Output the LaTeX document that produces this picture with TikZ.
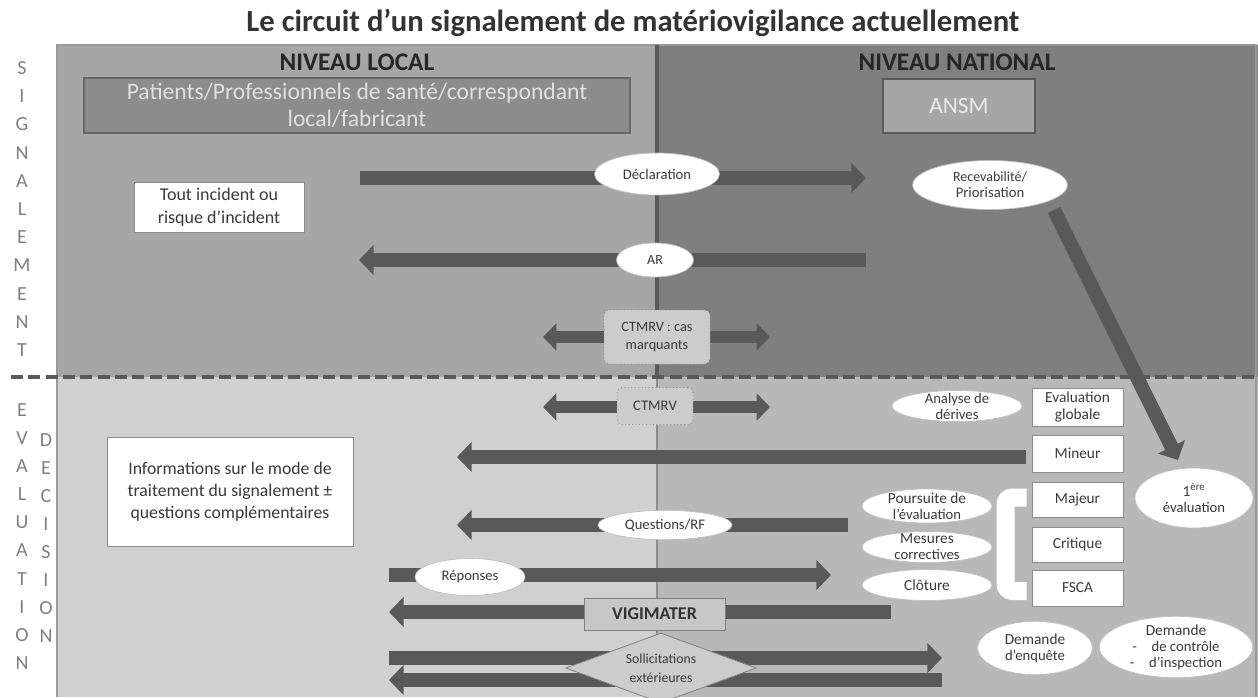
\documentclass[tikz,border=0pt]{standalone}
\usepackage{fontspec}
\setmainfont{Carlito}
\usetikzlibrary{arrows.meta,shapes.geometric}
\definecolor{arrowc}{HTML}{595959}
\definecolor{tlc}{HTML}{A6A6A6}
\definecolor{trc}{HTML}{7F7F7F}
\definecolor{blc}{HTML}{D0D0D0}
\definecolor{brc}{HTML}{B8B8B8}
\definecolor{txtc}{HTML}{3A3A3A}
\definecolor{lblc}{HTML}{808080}
\pgfdeclarelayer{bg}
\pgfdeclarelayer{arr}
\pgfsetlayers{bg,arr,main}
\tikzset{
  lbl/.style={text=lblc, font=\fontsize{15}{18}\selectfont, inner sep=0pt},
  niveau/.style={text=black!85, font=\fontsize{19}{22}\selectfont\bfseries, inner sep=0pt},
  whitebox/.style={rectangle, draw=black!45, line width=0.6pt, fill=white, text=txtc, align=center, inner sep=0pt},
  ovtext/.style={text=txtc, align=center, inner sep=0pt, font=\fontsize{11}{12}\selectfont},
  oval/.style={ellipse, draw=black!25, line width=0.5pt, fill=white, inner sep=0pt, label={[ovtext]center:#1}},
  ctm/.style={rectangle, rounded corners=4pt, draw=black!45, dotted, line width=0.6pt, fill=black!20, text=txtc, align=center, inner sep=0pt, font=\fontsize{10.7}{13}\selectfont},
  bigarrow/.style={arrowc, line width=10.5pt, -{Triangle[width=22pt,length=11pt]}},
  dblarrow/.style={arrowc, line width=9pt, {Triangle[width=20pt,length=10pt]}-{Triangle[width=20pt,length=10pt]}},
  rankbox/.style={whitebox, minimum width=68.25pt, font=\fontsize{11.5}{13}\selectfont}
}
\begin{document}
\begin{tikzpicture}[x=0.75pt,y=-0.75pt]
\useasboundingbox (0,0) rectangle (1258,697);

% backgrounds
\begin{pgfonlayer}{bg}
  \fill[white] (0,0) rectangle (1258,697);
  \fill[tlc] (57,45) rectangle (657,377);
  \fill[trc] (657,45) rectangle (1258,377);
  \fill[blc] (57,377) rectangle (657,697);
  \fill[brc] (657,377) rectangle (1258,697);
  \draw[black!40, line width=1pt] (57,697) -- (57,45) -- (1256,45) -- (1256,697);
  \draw[black!65, line width=2.5pt] (657,45) -- (657,377);
  \draw[black!45, line width=2.2pt] (657,377) -- (657,697);
  \draw[arrowc, line width=3pt, dash pattern=on 9pt off 4pt] (11,377) -- (1258,377);
\end{pgfonlayer}

% title
\node[text=black!80, font=\fontsize{23}{27}\selectfont\bfseries, inner sep=0pt] (title) at (633,23) {Le circuit d’un signalement de matériovigilance actuellement};

% side labels
\foreach \l [count=\i from 0] in {S,I,G,N,A,L,E,M,E,N,T}
  \node[lbl] (sig\i) at (22,{68+28.2*\i}) {\l};
\foreach \l [count=\i from 0] in {E,V,A,L,U,A,T,I,O,N}
  \node[lbl] (eva\i) at (22,{410+28.1*\i}) {\l};
\foreach \l [count=\i from 0] in {D,E,C,I,S,I,O,N}
  \node[lbl] (dec\i) at (46,{440+28*\i}) {\l};

% headers
\node[niveau] (loc) at (357,62) {NIVEAU LOCAL};
\node[niveau] (nat) at (957,62) {NIVEAU NATIONAL};

\node[rectangle, draw=black!60, line width=0.8pt, fill=black!45, text=black!12, align=center, inner sep=0pt,
      minimum width=409.5pt, minimum height=41.25pt, font=\fontsize{17.7}{20}\selectfont] (pat) at (357,105.5)
      {Patients/Professionnels de santé/correspondant\\local/fabricant};
\node[rectangle, draw=black!65, line width=0.8pt, fill=tlc, text=black!8, inner sep=0pt,
      minimum width=114pt, minimum height=40.5pt, font=\fontsize{17.5}{20}\selectfont] (ansm) at (959,106) {ANSM};

\node[whitebox, minimum width=127.5pt, minimum height=37.5pt, font=\fontsize{13.5}{17}\selectfont] (tout) at (219,207)
      {Tout incident ou\\risque d’incident};

\node[whitebox, minimum width=184.5pt, minimum height=81.75pt, font=\fontsize{13.3}{16.5}\selectfont] (info) at (230,491.5)
      {Informations sur le mode de\\traitement du signalement ±\\questions complémentaires};

% ovals on top part
\node[oval={\fontsize{11}{12}\selectfont Déclaration}, minimum width=93.75pt, minimum height=31.5pt] (decl) at (657,174) {};
\node[oval={\fontsize{10.5}{13}\selectfont Recevabilité/\\Priorisation}, minimum width=116pt, minimum height=36.75pt] (recev) at (990,185) {};
\node[oval={\fontsize{10.5}{12}\selectfont AR}, minimum width=57.75pt, minimum height=25.5pt] (ar) at (655,260) {};
\node[ctm, minimum width=79.5pt, minimum height=40.5pt] (ctmcas) at (657,337) {CTMRV : cas\\marquants};
\node[ctm, minimum width=57pt, minimum height=27.75pt, font=\fontsize{11}{13}\selectfont] (ctm) at (655,406) {CTMRV};

% right column
\node[oval={\fontsize{11}{11.5}\selectfont Analyse de\\dérives}, minimum width=97.5pt, minimum height=23.25pt] (analyse) at (957,406) {};
\node[rankbox, minimum height=28.5pt] (evalg) at (1077.5,407) {Evaluation\\globale};
\node[rankbox, minimum height=27.75pt] (mineur) at (1077.5,453.5) {Mineur};
\node[rankbox, minimum height=26.25pt] (majeur) at (1077.5,499.5) {Majeur};
\node[rankbox, minimum height=26.25pt] (critique) at (1077.5,544.5) {Critique};
\node[rankbox, minimum height=27pt] (fsca) at (1077.5,588) {FSCA};
\node[oval={\fontsize{11.5}{14}\selectfont 1\textsuperscript{ère}\\évaluation}, minimum width=88.5pt, minimum height=45pt] (prem) at (1194,498) {};

\node[oval={\fontsize{11.5}{12}\selectfont Poursuite de\\l’évaluation}, minimum width=97.5pt, minimum height=25.5pt] (pours) at (927,506) {};
\node[oval={\fontsize{11.5}{12}\selectfont Mesures\\correctives}, minimum width=97.5pt, minimum height=23.25pt] (mesures) at (927,547) {};
\node[oval={\fontsize{11.5}{12}\selectfont Clôture}, minimum width=97.5pt, minimum height=23.25pt] (cloture) at (927,585) {};

\node[oval={\fontsize{11}{12}\selectfont Questions/RF}, minimum width=100.5pt, minimum height=22pt] (quest) at (665,525) {};
\node[oval={\fontsize{11}{12}\selectfont Réponses}, minimum width=82.5pt, minimum height=27.75pt] (rep) at (470,577) {};
\node[rectangle, draw=black!50, line width=0.7pt, fill=black!22, text=black!80, inner sep=0pt,
      minimum width=105.75pt, minimum height=24pt, font=\fontsize{13.5}{15}\selectfont\bfseries] (vigi) at (654.5,614) {VIGIMATER};
\node[diamond, aspect=2.7, draw=black!50, line width=0.6pt, fill=black!20, inner sep=0pt,
      minimum width=143pt, minimum height=52.5pt,
      label={[ovtext, font=\fontsize{10.3}{14}\selectfont]center:Sollicitations\\extérieures}] (solli) at (661,668) {};

\node[oval={\fontsize{11.5}{14}\selectfont Demande\\d’enquête}, minimum width=86pt, minimum height=40pt] (enq) at (1035,648) {};
\node[oval={\fontsize{11.5}{13}\selectfont Demande\\-\quad de contrôle\\-\quad d’inspection}, minimum width=115pt, minimum height=46pt] (ctrl) at (1176,647) {};

% arrows
\begin{pgfonlayer}{arr}
  \coordinate (declS) at (360,178);   \coordinate (declE) at (866,178);
  \coordinate (arS) at (866,260);     \coordinate (arE) at (359,260);
  \coordinate (ctcL) at (543,337);    \coordinate (ctcR) at (770,337);
  \coordinate (ctL) at (543,407);     \coordinate (ctR) at (770,407);
  \coordinate (diagS) at (1054,210);  \coordinate (diagE) at (1178,460);
  \coordinate (minE) at (457,457);
  \coordinate (qS) at (848,525);      \coordinate (qE) at (457,525);
  \coordinate (repS) at (389,575);    \coordinate (repE) at (831,575);
  \coordinate (vgS) at (891,612);     \coordinate (vgE) at (389,612);
  \coordinate (s1S) at (389,658);     \coordinate (s1E) at (942,658);
  \coordinate (s2S) at (942,680);     \coordinate (s2E) at (389,680);

  \draw[bigarrow] (declS) -- (declE);
  \draw[bigarrow] (arS) -- (arE);
  \draw[dblarrow] (ctcL) -- (ctcR);
  \draw[dblarrow] (ctL) -- (ctR);
  \draw[bigarrow] (diagS) -- (diagE);
  \draw[bigarrow] ([xshift=-4.5pt]mineur.west |- 0,457) -- (minE);
  \draw[bigarrow] (qS) -- (qE);
  \draw[bigarrow] (repS) -- (repE);
  \draw[bigarrow] (vgS) -- (vgE);
  \draw[bigarrow] (s1S) -- (s1E);
  \draw[bigarrow] (s2S) -- (s2E);
\end{pgfonlayer}

% bracket
\draw[white, line width=13.5pt, rounded corners=5pt]
  ([xshift=-3.75pt,yshift=1.5pt]majeur.west) -- ++(-21,0) |- ([xshift=-3.75pt,yshift=-2.25pt]fsca.west);
\end{tikzpicture}
\end{document}
